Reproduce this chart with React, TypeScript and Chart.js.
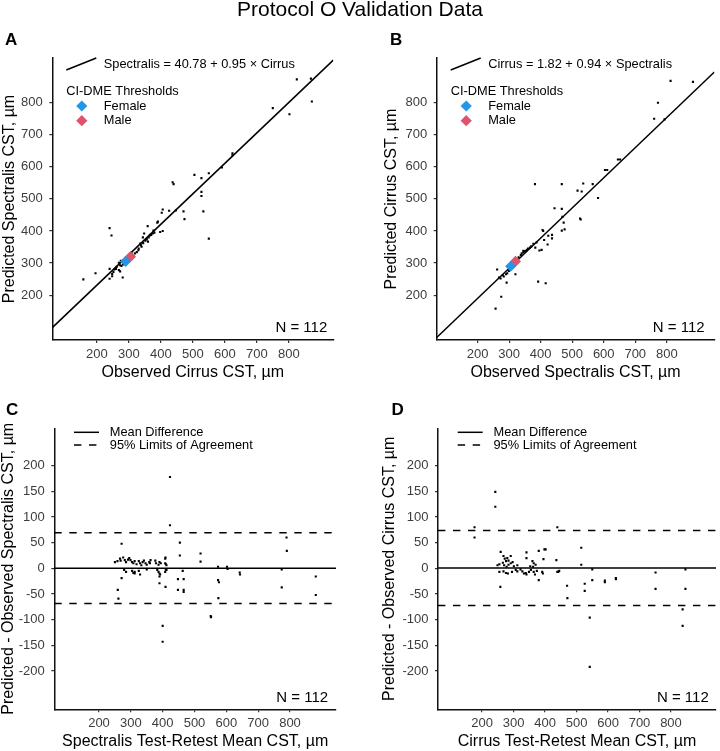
import { useEffect, useRef } from "react";
import { Chart, registerables } from "chart.js";

Chart.register(...registerables);

const FONT = "'Liberation Sans', Arial, Helvetica, sans-serif";

// ---------- text ----------
const mainTitle = "Protocol O Validation Data";
const sampleLabel = "N = 112";

// ---------- tick values ----------
const cstTicks = [200, 300, 400, 500, 600, 700, 800];
const diffTicks = [-200, -150, -100, -50, 0, 50, 100, 150, 200];

// ---------- Panel A: observed Cirrus vs predicted Spectralis ----------
const panelAPoints: [number, number][] = [
  [825, 873], [869, 875], [872, 804], [802, 764], [750, 783], [624, 642], [624, 636], [591, 598],
  [505, 575], [527, 565], [550, 580], [527, 522], [527, 509], [533, 461], [550, 376], [437, 552],
  [440, 546], [447, 464], [471, 461], [474, 437], [391, 429], [406, 400],
  [406, 467], [403, 457], [426, 463], [389, 426], [359, 415], [377, 401], [398, 397], [375, 392],
  [367, 388], [348, 392], [362, 380], [344, 380], [356, 374], [360, 367], [340, 351], [336, 361],
  [331, 345], [325, 334], [319, 330], [310, 326], [240, 409], [246, 386], [273, 293], [277, 291],
  [269, 301], [275, 307], [269, 278], [260, 282], [252, 272], [248, 266], [273, 274], [248, 259],
  [240, 282], [240, 251], [281, 255], [196, 268], [158, 249],
  [290, 310], [300, 318], [285, 300], [345, 362], [352, 370], [365, 385], [370, 388], [355, 375],
  [380, 395], [338, 355], [282, 296], [262, 288], [255, 280], [330, 340], [315, 322], [305, 322], [308, 330],
];
const panelAIntercept = 40.78;
const panelASlope = 0.95;
const panelAEquation = "Spectralis = 40.78 + 0.95 \u00d7 Cirrus";
const panelAFemale: [number, number] = [290, 305];
const panelAMale: [number, number] = [305, 320];

// ---------- Panel B: observed Spectralis vs predicted Cirrus ----------
const panelBPoints: [number, number][] = [
  [812, 868], [883, 865], [772, 800], [760, 750], [793, 748], [645, 623], [652, 623], [604, 590],
  [611, 590], [535, 548], [565, 546], [517, 526], [530, 523], [582, 503], [467, 546], [444, 471],
  [467, 469], [382, 546], [525, 439], [527, 436], [469, 444], [473, 426], [467, 401], [476, 405],
  [406, 403], [436, 388], [422, 358], [392, 242], [416, 237], [275, 195], [257, 158], [262, 280], [292, 239],
  [408, 400], [403, 341], [396, 339], [387, 364], [383, 348], [377, 360], [366, 348], [356, 341],
  [351, 337], [346, 333], [337, 325], [314, 294], [304, 283], [299, 275], [294, 268], [290, 265],
  [273, 252], [283, 258], [320, 265], [411, 372], [424, 385], [436, 377],
  [330, 318], [340, 330], [325, 310], [310, 290], [308, 285], [300, 280], [360, 345], [370, 352],
  [280, 262], [268, 255], [345, 338],
];
const panelBIntercept = 1.82;
const panelBSlope = 0.94;
const panelBEquation = "Cirrus = 1.82 + 0.94 \u00d7 Spectralis";
const panelBFemale: [number, number] = [305, 290];
const panelBMale: [number, number] = [320, 305];

// ---------- Panel C: Bland-Altman, Spectralis ----------
const panelCPoints: [number, number][] = [
  [423, 178], [423, 84], [271, 48], [454, 50], [454, 25], [519, 29], [519, 13], [789, 60], [790, 34],
  [774, -2], [774, -37], [881, -16], [881, -52], [271, -19], [259, -42], [261, -59], [400, -112],
  [400, -143], [551, -93], [552, -95], [574, 3], [574, -23], [577, -27], [575, -58], [602, 3], [604, -1],
  [642, -8], [643, -12], [466, -21], [448, -21], [448, -42], [466, -42], [466, -46], [410, 8], [410, -2],
  [409, 21], [409, -36],
  [250, 12], [258, 14], [266, 19], [268, 15], [276, 21], [281, 16], [285, 12], [291, 17], [295, 20],
  [299, 16], [304, 12], [308, 10], [312, 14], [318, 8], [325, 14], [329, 10], [333, 6], [337, 12],
  [341, 15], [346, 10], [350, 7], [358, 12], [362, 16], [360, 10], [377, 15], [379, 10], [390, 12],
  [387, 7], [394, 10], [408, 19], [408, 10], [412, 6],
  [279, -3], [285, -7], [304, -5], [308, -9], [312, -10], [329, -12], [312, -7], [325, -5], [350, -2],
  [383, -3], [387, -7], [390, -10], [392, -12], [390, -16], [408, -7], [412, -3], [463, -5], [390, -29],
];
const panelCMeanDiff = 0.4;
const panelCUpperLoA = 69.5;
const panelCLowerLoA = -68.7;

// ---------- Panel D: Bland-Altman, Cirrus ----------
const panelDPoints: [number, number][] = [
  [242, 149], [242, 120], [176, 80], [176, 60], [439, 80], [398, 37], [402, 37], [380, 34], [341, 31],
  [515, 40], [515, 7], [436, 16], [395, 18], [470, -34], [471, -58], [526, -30], [526, -44], [550, -2],
  [550, -23], [542, -96], [542, -192], [590, -24], [590, -27], [625, -19], [625, -21], [751, -8],
  [751, -40], [846, -2], [846, -40], [837, -80], [837, -112], [258, -36], [380, -23], [442, -7],
  [259, 32], [268, 24], [272, 19], [280, 20], [291, 24], [276, 14], [284, 15], [291, 10], [297, 12],
  [266, 11], [255, 8], [249, 6], [270, 6], [278, 3], [301, 4], [312, 6], [284, 7], [341, 20], [360, 14],
  [364, 10], [370, 7], [362, 3], [353, 4],
  [255, -7], [268, -6], [276, -9], [282, -10], [295, -7], [307, -3], [312, -6], [322, -2], [328, -6],
  [333, -10], [339, -9], [341, -12], [349, -7], [355, -3], [364, -7], [368, -12], [374, -5], [391, -7],
  [393, -10], [445, -5], [439, -7],
];
const panelDMeanDiff = 0.6;
const panelDUpperLoA = 73.8;
const panelDLowerLoA = -72.6;

// ---------- styling ----------
const FEMALE_COLOR = "#2297E6";
const MALE_COLOR = "#DF536B";
const TICK_COLOR = "#3d3d3d";
const DASH = [7.4, 7.6];
const LEGEND_FONT = `12.8px ${FONT}`;
const N_LABEL_X = 920;

type Area = { left: number; top: number; right: number; bottom: number };

interface PanelSpec {
  letter: string;
  letterPos: [number, number];
  pad: { left: number; top: number; right: number; bottom: number };
  yAxisWidth: number;
  xAxisHeight: number;
  xRange: [number, number];
  yRange: [number, number];
  yTicks: number[];
  xTitle: string;
  yTitle: string;
  xTitlePad: number;
  yTitlePad: number;
  datasets: any[];
  legend: (ctx: CanvasRenderingContext2D, a: Area) => void;
  nLabelY: number;
  drawMainTitle?: boolean;
}

const toXY = (pts: [number, number][]) => pts.map(([x, y]) => ({ x, y }));

function pointsDataset(pts: [number, number][]) {
  return {
    data: toXY(pts),
    pointStyle: "rect",
    pointRadius: 1.5,
    pointBorderWidth: 0,
    pointBackgroundColor: "#000",
    backgroundColor: "#000",
    borderWidth: 0,
    showLine: false,
  };
}

function lineDataset(data: { x: number; y: number }[], dash: number[] = []) {
  return {
    data,
    showLine: true,
    pointRadius: 0,
    borderColor: "#000",
    borderWidth: 1.5,
    borderDash: dash,
    fill: false,
    tension: 0,
  };
}

function diamondDataset(p: [number, number], color: string) {
  return {
    data: [{ x: p[0], y: p[1] }],
    pointStyle: "rectRot",
    pointRadius: 5.6,
    pointBorderWidth: 0,
    pointBackgroundColor: color,
    backgroundColor: color,
    borderWidth: 0,
    showLine: false,
  };
}

function drawDiamond(ctx: CanvasRenderingContext2D, x: number, y: number, r: number, color: string) {
  ctx.fillStyle = color;
  ctx.beginPath();
  ctx.moveTo(x, y - r);
  ctx.lineTo(x + r, y);
  ctx.lineTo(x, y + r);
  ctx.lineTo(x - r, y);
  ctx.closePath();
  ctx.fill();
}

function fitLegend(equation: string) {
  return (ctx: CanvasRenderingContext2D, a: Area) => {
    const l = a.left;
    const t = a.top;
    ctx.strokeStyle = "#000";
    ctx.lineWidth = 1.5;
    ctx.setLineDash([]);
    ctx.beginPath();
    ctx.moveTo(l + 14, t + 12);
    ctx.lineTo(l + 44, t + 0);
    ctx.stroke();
    ctx.font = LEGEND_FONT;
    ctx.fillStyle = "#000";
    ctx.textAlign = "left";
    ctx.textBaseline = "middle";
    ctx.fillText(equation, l + 51.5, t + 6.3);
    ctx.fillText("CI-DME Thresholds", l + 14, t + 33.7);
    drawDiamond(ctx, l + 29.5, t + 48, 5.6, FEMALE_COLOR);
    drawDiamond(ctx, l + 29.5, t + 62.7, 5.6, MALE_COLOR);
    ctx.fillStyle = "#000";
    ctx.fillText("Female", l + 51.5, t + 48);
    ctx.fillText("Male", l + 51.5, t + 62.7);
  };
}

function agreementLegend(ctx: CanvasRenderingContext2D, a: Area) {
  const l = a.left;
  const t = a.top;
  ctx.strokeStyle = "#000";
  ctx.lineWidth = 1.5;
  ctx.setLineDash([]);
  ctx.beginPath();
  ctx.moveTo(l + 19.7, t + 4);
  ctx.lineTo(l + 44.7, t + 4);
  ctx.stroke();
  ctx.setLineDash(DASH);
  ctx.beginPath();
  ctx.moveTo(l + 19.7, t + 16.7);
  ctx.lineTo(l + 44.7, t + 16.7);
  ctx.stroke();
  ctx.setLineDash([]);
  ctx.font = LEGEND_FONT;
  ctx.fillStyle = "#000";
  ctx.textAlign = "left";
  ctx.textBaseline = "middle";
  ctx.fillText("Mean Difference", l + 55.5, t + 4);
  ctx.fillText("95% Limits of Agreement", l + 55.5, t + 16.7);
}

function fitLine(intercept: number, slope: number, range: [number, number]) {
  return range.map((x) => ({ x, y: intercept + slope * x }));
}

function flatLine(y: number, range: [number, number]) {
  return range.map((x) => ({ x, y }));
}

const aX: [number, number] = [61, 939];
const aY: [number, number] = [60, 939.5];
const bX: [number, number] = [70.3, 951];
const cX: [number, number] = [59.6, 944.5];
const cY: [number, number] = [-274.6, 272.8];
const dX: [number, number] = [60, 943];

const PANELS: PanelSpec[] = [
  {
    letter: "A",
    letterPos: [5, 45],
    pad: { left: 0, top: 58, right: 386.7, bottom: 366 },
    yAxisWidth: 52.3,
    xAxisHeight: 45,
    xRange: aX,
    yRange: aY,
    yTicks: cstTicks,
    xTitle: "Observed Cirrus CST, \u00b5m",
    yTitle: "Predicted Spectralis CST, \u00b5m",
    xTitlePad: 3.4,
    yTitlePad: 0,
    datasets: [
      diamondDataset(panelAFemale, FEMALE_COLOR),
      diamondDataset(panelAMale, MALE_COLOR),
      lineDataset(fitLine(panelAIntercept, panelASlope, aX)),
      pointsDataset(panelAPoints),
    ],
    legend: fitLegend(panelAEquation),
    nLabelY: 97,
    drawMainTitle: true,
  },
  {
    letter: "B",
    letterPos: [390, 45],
    pad: { left: 360, top: 58, right: 0, bottom: 366 },
    yAxisWidth: 76.7,
    xAxisHeight: 45,
    xRange: bX,
    yRange: aY,
    yTicks: cstTicks,
    xTitle: "Observed Spectralis CST, \u00b5m",
    yTitle: "Predicted Cirrus CST, \u00b5m",
    xTitlePad: 3.4,
    yTitlePad: 22.8,
    datasets: [
      diamondDataset(panelBFemale, FEMALE_COLOR),
      diamondDataset(panelBMale, MALE_COLOR),
      lineDataset(fitLine(panelBIntercept, panelBSlope, bX)),
      pointsDataset(panelBPoints),
    ],
    legend: fitLegend(panelBEquation),
    nLabelY: 97,
  },
  {
    letter: "C",
    letterPos: [6, 414.5],
    pad: { left: 0, top: 428.3, right: 384, bottom: 0 },
    yAxisWidth: 54.3,
    xAxisHeight: 41.7,
    xRange: cX,
    yRange: cY,
    yTicks: diffTicks,
    xTitle: "Spectralis Test-Retest Mean CST, \u00b5m",
    yTitle: "Predicted - Observed Spectralis CST, \u00b5m",
    xTitlePad: 0.3,
    yTitlePad: -0.9,
    datasets: [
      lineDataset(flatLine(panelCMeanDiff, cX)),
      lineDataset(flatLine(panelCUpperLoA, cX), DASH),
      lineDataset(flatLine(panelCLowerLoA, cX), DASH),
      pointsDataset(panelCPoints),
    ],
    legend: agreementLegend,
    nLabelY: -252,
  },
  {
    letter: "D",
    letterPos: [391.5, 414.5],
    pad: { left: 360, top: 428.3, right: 0, bottom: 0 },
    yAxisWidth: 78,
    xAxisHeight: 41.7,
    xRange: dX,
    yRange: cY,
    yTicks: diffTicks,
    xTitle: "Cirrus Test-Retest Mean CST, \u00b5m",
    yTitle: "Predicted - Observed Cirrus CST, \u00b5m",
    xTitlePad: 0.3,
    yTitlePad: 20.8,
    datasets: [
      lineDataset(flatLine(panelDMeanDiff, dX)),
      lineDataset(flatLine(panelDUpperLoA, dX), DASH),
      lineDataset(flatLine(panelDLowerLoA, dX), DASH),
      pointsDataset(panelDPoints),
    ],
    legend: agreementLegend,
    nLabelY: -252,
  },
];

function buildConfig(p: PanelSpec): any {
  const tickFont = { family: FONT, size: 13, lineHeight: 1.2 };
  const titleFont = { family: FONT, size: 16, lineHeight: 1.15 };
  const grid = {
    display: true,
    drawOnChartArea: false,
    drawTicks: true,
    tickLength: 3,
    color: "#333",
    lineWidth: 1.2,
  };
  const border = { display: true, color: "#111", width: 1.5 };

  const overlay = {
    id: "overlay-" + p.letter,
    afterDraw(chart: any) {
      const ctx: CanvasRenderingContext2D = chart.ctx;
      const a = chart.chartArea;
      ctx.save();
      p.legend(ctx, a);
      // N label
      ctx.font = `15px ${FONT}`;
      ctx.fillStyle = "#000";
      ctx.textAlign = "right";
      ctx.textBaseline = "middle";
      ctx.fillText(
        sampleLabel,
        chart.scales.x.getPixelForValue(N_LABEL_X),
        chart.scales.y.getPixelForValue(p.nLabelY)
      );
      // panel letter
      ctx.font = `bold 17px ${FONT}`;
      ctx.textAlign = "left";
      ctx.textBaseline = "alphabetic";
      ctx.fillText(p.letter, p.letterPos[0], p.letterPos[1]);
      if (p.drawMainTitle) {
        ctx.font = `21px ${FONT}`;
        ctx.textAlign = "center";
        ctx.fillText(mainTitle, 360, 16);
      }
      ctx.restore();
    },
  };

  return {
    type: "scatter",
    data: { datasets: p.datasets },
    options: {
      responsive: false,
      animation: false,
      devicePixelRatio: 1,
      events: [],
      layout: { padding: p.pad },
      plugins: {
        legend: { display: false },
        tooltip: { enabled: false },
        title: { display: false },
      },
      scales: {
        x: {
          type: "linear",
          position: "bottom",
          min: p.xRange[0],
          max: p.xRange[1],
          afterFit: (s: any) => {
            s.height = p.xAxisHeight;
          },
          afterBuildTicks: (s: any) => {
            s.ticks = cstTicks.map((v) => ({ value: v }));
          },
          grid,
          border,
          ticks: {
            font: tickFont,
            color: TICK_COLOR,
            padding: 3.5,
            autoSkip: false,
            maxRotation: 0,
            callback: (v: any) => String(v),
          },
          title: {
            display: true,
            text: p.xTitle,
            font: titleFont,
            color: "#000",
            padding: { top: 0, bottom: p.xTitlePad },
          },
        },
        y: {
          type: "linear",
          position: "left",
          min: p.yRange[0],
          max: p.yRange[1],
          afterFit: (s: any) => {
            s.width = p.yAxisWidth;
          },
          afterBuildTicks: (s: any) => {
            s.ticks = p.yTicks.map((v) => ({ value: v }));
          },
          grid,
          border,
          ticks: {
            font: tickFont,
            color: TICK_COLOR,
            padding: 6.5,
            autoSkip: false,
            callback: (v: any) => String(v),
          },
          title: {
            display: true,
            text: p.yTitle,
            font: titleFont,
            color: "#000",
            padding: { top: p.yTitlePad, bottom: 0 },
          },
        },
      },
    },
    plugins: [overlay],
  };
}

export default function App() {
  const canvasRefs = useRef<(HTMLCanvasElement | null)[]>([]);

  useEffect(() => {
    const charts = PANELS.map((p, i) => new Chart(canvasRefs.current[i] as HTMLCanvasElement, buildConfig(p)));
    return () => {
      charts.forEach((c) => c.destroy());
    };
  }, []);

  return (
    <div
      style={{
        position: "absolute",
        left: 0,
        top: 0,
        width: 720,
        height: 751,
        background: "#fff",
        overflow: "hidden",
      }}
    >
      {PANELS.map((p, i) => (
        <canvas
          key={p.letter}
          ref={(el) => {
            canvasRefs.current[i] = el;
          }}
          width={720}
          height={751}
          style={{ position: "absolute", left: 0, top: 0, width: 720, height: 751 }}
        />
      ))}
    </div>
  );
}
